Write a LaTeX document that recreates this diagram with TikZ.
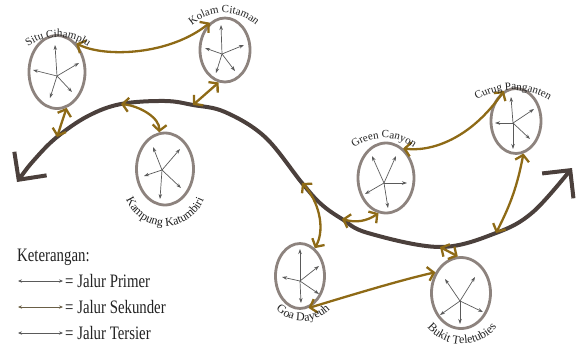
\documentclass[tikz,border=0pt]{standalone}
\usepackage{fontspec}
\setmainfont{Liberation Serif}
\newfontfamily\keyfont[FakeStretch=0.78]{Liberation Serif}
\usetikzlibrary{arrows.meta,shapes.geometric,decorations.text}

\definecolor{trunk}{HTML}{4B403C}
\definecolor{rim}{HTML}{8D837E}
\definecolor{gold}{HTML}{8E6A16}
\definecolor{spoke}{HTML}{5A5A5A}
\definecolor{ink}{HTML}{222222}

\newcommand\lblfont{\fontsize{11}{11}\selectfont}
\newcommand\lowlblfont{\fontsize{12}{12}\selectfont}

\tikzset{
  spot/.style={ellipse, draw=rim, line width=2.8pt, inner sep=0pt},
  trunkline/.style={draw=trunk, line width=4pt, line cap=round,
    {Straight Barb[length=20pt,width=40pt,line width=4pt]}-{Straight Barb[length=20pt,width=40pt,line width=4pt]}},
  second/.style={draw=gold, line width=2.3pt,
    {Straight Barb[length=6pt,width=14pt]}-{Straight Barb[length=6pt,width=14pt]}},
  spokeline/.style={draw=spoke, line width=0.7pt, -{Stealth[length=5pt,width=3.5pt]}},
  keyline/.style={line width=0.8pt, {Stealth[length=4pt,width=3.4pt]}-{Stealth[length=4pt,width=3.4pt]}},
  keytext/.style={anchor=base west, text=ink, font=\keyfont\fontsize{19}{19}\selectfont, inner sep=0pt},
  toplabel/.style={decorate, decoration={text along path, text align=center,
    text={|\lblfont\color{ink}|#1}}},
  lowlabel/.style={decorate, decoration={text along path, text align=center,
    text={|\lowlblfont\color{ink}|#1}}},
}

\begin{document}
\begin{tikzpicture}[x=1pt,y=1pt]
\useasboundingbox (0,0) rectangle (576,-343);

% destination nodes
\node[spot, minimum width=56pt, minimum height=73pt] (situ)    at (57,-72)  {};
\node[spot, minimum width=50pt, minimum height=64pt] (kolam)   at (225,-50) {};
\node[spot, minimum width=57pt, minimum height=72pt] (kampung) at (165,-169) {};
\node[spot, minimum width=56pt, minimum height=70pt] (green)   at (386,-178) {};
\node[spot, minimum width=50pt, minimum height=65pt] (curug)   at (516,-121) {};
\node[spot, minimum width=49pt, minimum height=65pt] (goa)     at (300,-276) {};
\node[spot, minimum width=59pt, minimum height=71pt] (bukit)   at (461,-293) {};

% tertiary paths inside each destination
\coordinate (situ-hub) at (57,-76);
\foreach \x/\y in {55/-45, 33/-70, 79/-63, 50/-98, 72/-92}
  \draw[spokeline] (situ-hub) -- (\x,\y);
\coordinate (kolam-hub) at (222,-54);
\foreach \x/\y in {221/-25, 205/-48, 244/-45, 216/-73, 235/-71}
  \draw[spokeline] (kolam-hub) -- (\x,\y);
\coordinate (kampung-hub) at (162,-170);
\foreach \x/\y in {153/-147, 180/-149, 144/-176, 160/-199, 181/-188}
  \draw[spokeline] (kampung-hub) -- (\x,\y);
\coordinate (green-hub) at (384,-183);
\foreach \x/\y in {372/-156, 396/-156, 407/-183, 365/-194, 388/-208}
  \draw[spokeline] (green-hub) -- (\x,\y);
\coordinate (curug-hub) at (513,-123);
\foreach \x/\y in {511/-97, 534/-109, 495/-123, 530/-139, 513/-149}
  \draw[spokeline] (curug-hub) -- (\x,\y);
\coordinate (goa-hub) at (300,-281);
\foreach \x/\y in {300/-249, 319/-266, 282/-277, 301/-303, 319/-294}
  \draw[spokeline] (goa-hub) -- (\x,\y);
\coordinate (bukit-hub) at (460,-301);
\foreach \x/\y in {445/-279, 475/-277, 440/-315, 460/-324, 483/-312}
  \draw[spokeline] (bukit-hub) -- (\x,\y);

% primary route
\coordinate (t1)  at (57,-137);
\coordinate (t4)  at (121,-104);
\coordinate (t3)  at (193,-105);
\coordinate (t8)  at (302,-183);
\coordinate (t6)  at (342,-219);
\coordinate (t10) at (440,-247);
\coordinate (t7)  at (496,-233);
\draw[trunkline] plot[smooth, tension=0.6] coordinates {
  (17,-182) (35,-159) (t1) (88,-116) (t4) (165,-101) (t3)
  (225,-112) (265,-137) (t8) (321,-204) (t6) (368,-233) (t10)
  (t7) (533,-212) (572,-168)};

% secondary routes
\draw[second] (situ.56) .. controls (105,-58) and (170,-55) .. (kolam.119);
\draw[second] (situ.285) -- (t1);
\draw[second] (kolam.259) -- (t3);
\draw[second] (t4) .. controls (140,-106) and (160,-118) .. (kampung.99);
\draw[second] (green.60) .. controls (430,-152) and (470,-140) .. (curug.112);
\draw[second] (t6) to[bend right=25] (green.258);
\draw[second] (curug.283) to[bend left=8] (t7);
\draw[second] (t8) .. controls (318,-200) and (326,-228) .. (goa.62);
\draw[second] (goa.285) .. controls (335,-300) and (400,-280) .. (bukit.141);
\draw[second] (t10) -- (bukit.95);

% curved names
\path[toplabel={Situ Cihamplu}]
  ([shift={(58,-88)}]180:51pt) arc[start angle=180, end angle=0, radius=51pt];
\path[toplabel={Kolam Citaman}]
  ([shift={(224,-61)}]180:48pt) arc[start angle=180, end angle=0, radius=48pt];
\path[toplabel={Green Canyon}]
  ([shift={(384,-187)}]180:49pt) arc[start angle=180, end angle=0, radius=49pt];
\path[toplabel={Curug Panganten}]
  ([shift={(513,-160)}]180:70pt) arc[start angle=180, end angle=0, radius=70pt];
\path[lowlabel={Kampung Katumbiri}]
  ([shift={(165,-184)}]180:42pt) arc[start angle=180, end angle=360, radius=42pt];
\path[lowlabel={Goa Dayeuh}]
  ([shift={(303,-283)}]180:38pt) arc[start angle=180, end angle=360, radius=38pt];
\path[lowlabel={Bukit Teletubies}]
  ([shift={(462,-299)}]180:45pt) arc[start angle=180, end angle=360, radius=45pt];

% legend
\node[keytext] (key) at (17,-261) {Keterangan:};
\node[keytext] (k1) at (65,-287) {= Jalur Primer};
\node[keytext] (k2) at (65,-313) {= Jalur Sekunder};
\node[keytext] (k3) at (65,-339) {= Jalur Tersier};
\coordinate (a1) at (18,-281); \coordinate (b1) at (63,-281);
\coordinate (a2) at (18,-307); \coordinate (b2) at (63,-307);
\coordinate (a3) at (18,-333); \coordinate (b3) at (63,-333);
\draw[keyline, draw=spoke, fill=spoke] (a1) -- (b1);
\draw[line width=0.8pt, draw=spoke!70!gold,
  {Stealth[length=4pt,width=3.4pt,fill=gold]}-{Stealth[length=4pt,width=3.4pt,fill=spoke]}] (a2) -- (b2);
\draw[keyline, draw=spoke, fill=spoke] (a3) -- (b3);
\end{tikzpicture}
\end{document}
